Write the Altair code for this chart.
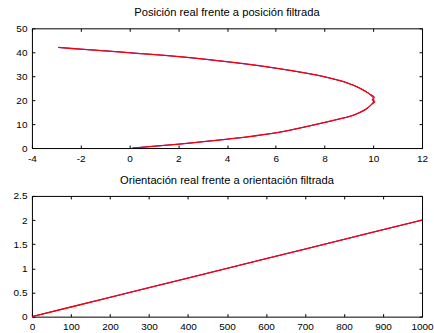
import altair as alt
import pandas as pd

# --- Top panel: position (real = blue, filtered = red)
pos_real_x = [0.1, 1.0, 2.09, 3.1, 4.13, 4.95, 6.31, 7.67, 8.76, 9.17, 9.71, 10.02, 9.85, 9.44, 8.9, 8.3, 7.4, 5.76, 4.13, 2.09, 0.04, -1.0, -2.0, -2.93]
pos_real_y = [0.0, 0.75, 1.7, 2.75, 3.85, 4.8, 6.9, 9.9, 12.5, 13.7, 16.2, 19.7, 22.5, 25.1, 27.3, 29.0, 31.0, 33.7, 35.9, 38.1, 39.8, 40.6, 41.3, 42.0]
pos_filt_x = [0.15, 1.05, 2.05, 3.15, 4.1, 4.98, 6.28, 7.7, 8.74, 9.2, 9.68, 9.95, 10.06, 9.96, 10.04, 9.85, 9.42, 8.92, 8.28, 7.42, 5.74, 4.15, 2.07, 0.06, -1.02, -2.0, -2.9]
pos_filt_y = [0.0, 0.78, 1.68, 2.8, 3.8, 4.85, 6.85, 9.95, 12.45, 13.75, 16.15, 18.4, 19.3, 20.2, 21.2, 22.6, 25.15, 27.25, 29.05, 30.95, 33.75, 35.85, 38.15, 39.75, 40.62, 41.3, 42.0]

# --- Bottom panel: orientation
ori_t = [0, 100, 200, 300, 400, 500, 600, 700, 800, 900, 1000]
ori_real = [0.0, 0.2, 0.4, 0.6, 0.8, 1.0, 1.2, 1.4, 1.6, 1.8, 2.0]
ori_filt = [0.0, 0.2, 0.4, 0.6, 0.8, 1.0, 1.2, 1.4, 1.6, 1.8, 2.0]

x_ticks_top = [-4, -2, 0, 2, 4, 6, 8, 10, 12]
y_ticks_top = [0, 10, 20, 30, 40, 50]
x_ticks_bot = [0, 100, 200, 300, 400, 500, 600, 700, 800, 900, 1000]
y_ticks_bot = [0, 0.5, 1, 1.5, 2, 2.5]

W = 391
H1 = 120
H2 = 121
FONT = "Liberation Sans"

pos_df = pd.concat([
    pd.DataFrame({"x": pos_real_x, "y": pos_real_y, "i": range(len(pos_real_x)), "s": "real"}),
    pd.DataFrame({"x": pos_filt_x, "y": pos_filt_y, "i": range(len(pos_filt_x)), "s": "filtrada"}),
])
ori_df = pd.concat([
    pd.DataFrame({"t": ori_t, "v": ori_real, "s": "real"}),
    pd.DataFrame({"t": ori_t, "v": ori_filt, "s": "filtrada"}),
])

color_scale = alt.Scale(domain=["real", "filtrada"], range=["#0000ff", "#ff0000"])
width_scale = alt.Scale(domain=["real", "filtrada"], range=[1.0, 1.3])


def axis(values, length):
    return alt.Axis(values=values, title=None, labelExpr="'' + datum.value",
                    grid=True, gridDash=[3, length - 6], gridColor="#000000",
                    gridOpacity=1, gridWidth=1, ticks=False, domain=False,
                    labelFont=FONT, labelFontSize=10, labelColor="#000000",
                    labelPadding=5, labelFlush=False, labelOverlap=False)


def title(text):
    return alt.TitleParams(text, font=FONT, fontSize=11.2, fontWeight="normal",
                           color="#000000", offset=5)


top = alt.Chart(pos_df).mark_line(clip=True, interpolate="cardinal").encode(
    x=alt.X("x:Q", scale=alt.Scale(domain=[-4, 12], nice=False, zero=False), axis=axis(x_ticks_top, H1)),
    y=alt.Y("y:Q", scale=alt.Scale(domain=[0, 50], nice=False), axis=axis(y_ticks_top, W)),
    color=alt.Color("s:N", scale=color_scale, legend=None),
    strokeWidth=alt.StrokeWidth("s:N", scale=width_scale, legend=None),
    order=alt.Order("i:Q"),
    detail="s:N",
).properties(width=W, height=H1, title=title("Posición real frente a posición filtrada"))

bottom = alt.Chart(ori_df).mark_line(clip=True).encode(
    x=alt.X("t:Q", scale=alt.Scale(domain=[0, 1000], nice=False), axis=axis(x_ticks_bot, H2)),
    y=alt.Y("v:Q", scale=alt.Scale(domain=[0, 2.5], nice=False), axis=axis(y_ticks_bot, W)),
    color=alt.Color("s:N", scale=color_scale, legend=None),
    strokeWidth=alt.StrokeWidth("s:N", scale=width_scale, legend=None),
    detail="s:N",
).properties(width=W, height=H2, title=title("Orientación real frente a orientación filtrada"))

chart = alt.vconcat(top, bottom, spacing=10).properties(
    padding={"left": 12, "top": 6, "right": 0, "bottom": 2},
    background="white",
).configure_view(stroke="#000000", strokeWidth=1)

chart.save("out.html", embed_options={"renderer": "svg", "actions": False})
